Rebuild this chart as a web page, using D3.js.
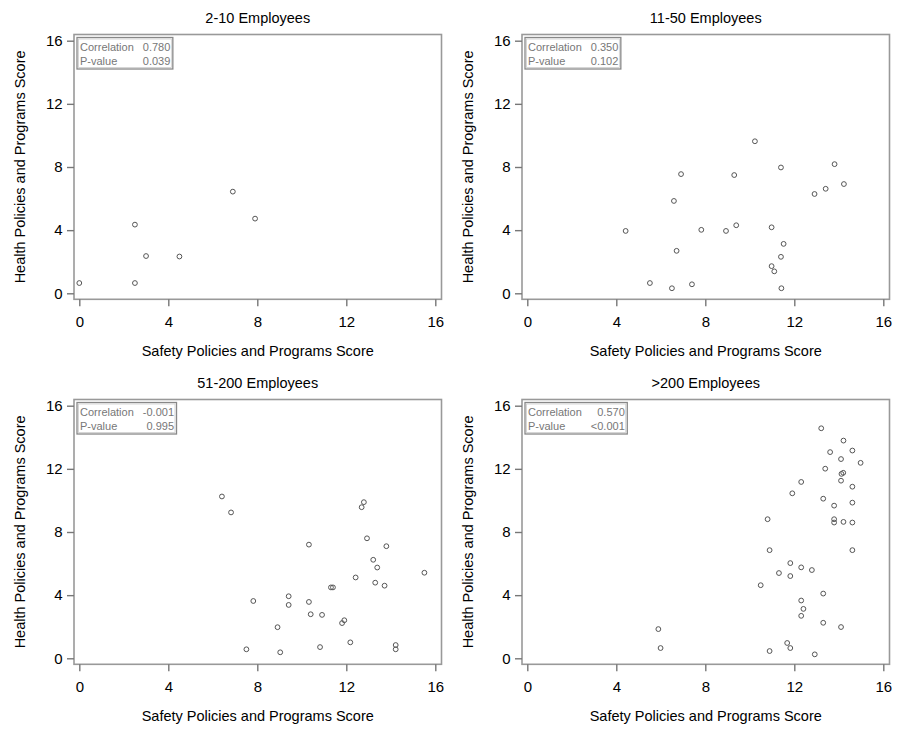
<!DOCTYPE html>
<html>
<head>
<meta charset="utf-8">
<script src="https://cdn.jsdelivr.net/npm/d3@7"></script>
<style>
body { margin: 0; background: #fff; }
text { font-family: Arial, "Liberation Sans", sans-serif; }
</style>
</head>
<body>
<svg id="chart" width="897" height="731"></svg>
<script>
// panel titles and the stats shown in the corner boxes
var panelTitles = ["2-10 Employees", "11-50 Employees", "51-200 Employees", ">200 Employees"];
var correlations = ["0.780", "0.350", "-0.001", "0.570"];
var pvalues = ["0.039", "0.102", "0.995", "<0.001"];
var tickValues = [0, 4, 8, 12, 16];
var xTitle = "Safety Policies and Programs Score";
var yTitle = "Health Policies and Programs Score";

// [safety, health] per company
var emp2to10 = [[0, 0.65], [2.5, 0.65], [2.5, 4.35], [3, 2.36], [4.5, 2.33], [6.9, 6.44], [7.9, 4.73]];

var emp11to50 = [[4.42, 3.95], [5.51, 0.65], [6.5, 0.32], [6.59, 5.85], [6.71, 2.69], [6.91, 7.55],
  [7.4, 0.57], [7.82, 4.02], [8.93, 3.95], [9.3, 7.49], [9.39, 4.31], [10.23, 9.63], [10.98, 4.18],
  [10.98, 1.72], [11.1, 1.39], [11.4, 7.97], [11.4, 2.31], [11.52, 3.13], [11.42, 0.32], [12.91, 6.29],
  [13.41, 6.62], [13.81, 8.18], [14.23, 6.92]];

var emp51to200 = [[6.41, 10.25], [6.82, 9.24], [7.51, 0.57], [7.82, 3.63], [8.91, 1.97], [9.03, 0.38],
  [9.41, 3.93], [9.41, 3.38], [10.32, 7.2], [10.32, 3.57], [10.4, 2.79], [10.82, 0.71], [10.91, 2.75],
  [11.31, 4.49], [11.4, 4.49], [11.81, 2.23], [11.91, 2.41], [12.18, 1.01], [12.42, 5.12], [12.69, 9.57],
  [12.79, 9.89], [12.93, 7.6], [13.21, 6.24], [13.3, 4.79], [13.39, 5.75], [13.72, 4.6], [13.8, 7.1],
  [14.22, 0.84], [14.22, 0.57], [15.51, 5.42]];

var empOver200 = [[5.89, 1.85], [5.99, 0.65], [10.49, 4.63], [10.8, 8.81], [10.89, 6.85], [10.89, 0.46],
  [11.31, 5.4], [11.68, 0.97], [11.82, 6.03], [11.82, 5.21], [11.82, 0.65], [11.91, 10.45], [12.31, 11.17],
  [12.31, 5.76], [12.31, 3.66], [12.31, 2.69], [12.41, 3.13], [12.79, 5.59], [12.92, 0.25], [13.21, 14.57],
  [13.3, 10.11], [13.3, 4.1], [13.3, 2.25], [13.39, 12.01], [13.61, 13.06], [13.79, 9.67], [13.79, 8.81],
  [13.79, 8.6], [14.1, 12.62], [14.1, 11.25], [14.12, 11.68], [14.2, 11.75], [14.1, 1.98], [14.21, 13.79],
  [14.21, 8.64], [14.61, 13.16], [14.61, 10.87], [14.61, 9.86], [14.61, 8.6], [14.61, 6.85], [14.98, 12.38]];

var panelData = [emp2to10, emp11to50, emp51to200, empOver200];

var svg = d3.select("#chart");

// frame box inside each panel
var frame = {left: 74, right: 441.5, top: 34.5, bottom: 299.3};

var x = d3.scaleLinear().domain([0, 16]).range([79.3, 435.3]);
var y = d3.scaleLinear().domain([0, 16]).range([293.3, 40.7]);

function drawPanel(i)
{
var col = i % 2, row = Math.floor(i / 2);
var g = svg.append("g").attr("transform", "translate(" + (col * 448) + "," + (row * 365) + ")");

g.append("text")
  .attr("x", (frame.left + frame.right) / 2)
  .attr("y", 22.5)
  .attr("text-anchor", "middle")
  .style("font-size", "14.5px")
  .text(panelTitles[i]);

g.append("rect")
  .attr("x", frame.left).attr("y", frame.top)
  .attr("width", frame.right - frame.left).attr("height", frame.bottom - frame.top)
  .attr("fill", "none").attr("stroke", "#999").attr("stroke-width", 1.6);

var yAxis = g.append("g").attr("transform", "translate(" + frame.left + ",0)")
  .call(d3.axisLeft(y).tickValues(tickValues).tickSize(7).tickPadding(4.3));
var xAxis = g.append("g").attr("transform", "translate(0," + frame.bottom + ")")
  .call(d3.axisBottom(x).tickValues(tickValues).tickSize(7).tickPadding(10.4));

[xAxis, yAxis].forEach(function (a) {
  a.select(".domain").remove();
  a.selectAll(".tick line").attr("stroke", "#777").attr("stroke-width", 1.4);
  a.selectAll(".tick text").attr("fill", "#000").style("font-size", "15px")
    .style("font-family", "Arial, 'Liberation Sans', sans-serif");
});

g.append("text")
  .attr("x", (frame.left + frame.right) / 2)
  .attr("y", 356)
  .attr("text-anchor", "middle")
  .style("font-size", "14.5px")
  .text(xTitle);

g.append("text")
  .attr("transform", "translate(25," + ((frame.top + frame.bottom) / 2) + ") rotate(-90)")
  .attr("text-anchor", "middle")
  .style("font-size", "14.5px")
  .text(yTitle);

g.selectAll(".pt")
  .data(panelData[i])
  .enter().append("circle")
  .attr("class", "pt")
  .attr("cx", function (d) { return x(d[0]); })
  .attr("cy", function (d) { return y(d[1]); })
  .attr("r", 2.4)
  .attr("fill", "none")
  .attr("stroke", "#555")
  .attr("stroke-width", 1);

// stats box
var box = g.append("g");
var bx = frame.left + 3, by = frame.top + 3;
var labels = box.selectAll(".lab").data(["Correlation", "P-value"])
  .enter().append("text").attr("class", "lab")
  .attr("x", bx + 3)
  .attr("y", function (d, j) { return by + 13 + j * 14.5; })
  .attr("fill", "#777")
  .style("font-size", "11px")
  .text(function (d) { return d; });
var vals = box.selectAll(".val").data([correlations[i], pvalues[i]])
  .enter().append("text").attr("class", "val")
  .attr("y", function (d, j) { return by + 13 + j * 14.5; })
  .attr("fill", "#777")
  .attr("text-anchor", "end")
  .style("font-size", "11px")
  .text(function (d) { return d; });
var labW = d3.max(labels.nodes(), function (n) { return n.getComputedTextLength(); });
var valW = d3.max(vals.nodes(), function (n) { return n.getComputedTextLength(); });
var bw = 3 + labW + 9 + valW + 2.5;
vals.attr("x", bx + bw - 2.5);
box.insert("rect", "text")
  .attr("x", bx).attr("y", by).attr("width", bw).attr("height", 31.5)
  .attr("fill", "#fff").attr("stroke", "#888").attr("stroke-width", 1.3);
box.insert("rect", "text")
  .attr("x", bx + 1.5).attr("y", by + 1.5).attr("width", bw - 3).attr("height", 28.5)
  .attr("fill", "none").attr("stroke", "#ccc").attr("stroke-width", 0.8);
}

for (var i = 0; i < 4; i++) drawPanel(i);
</script>
</body>
</html>
